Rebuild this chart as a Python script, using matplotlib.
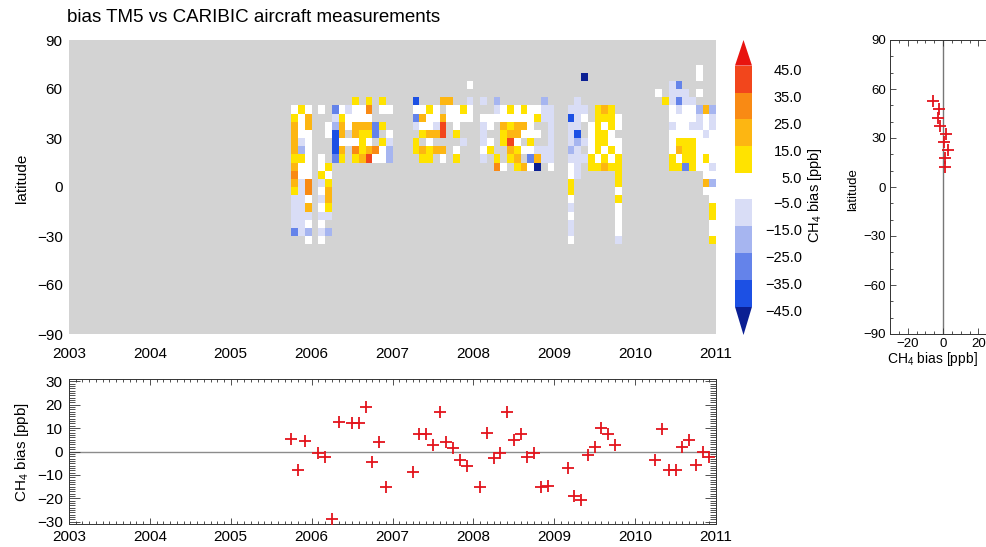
import numpy as np
import matplotlib
matplotlib.use("Agg")
import matplotlib.pyplot as plt
from matplotlib.colors import ListedColormap, BoundaryNorm
from matplotlib.patches import Rectangle, Polygon
from matplotlib.ticker import MultipleLocator

plt.rcParams['font.family'] = ['Liberation Sans', 'DejaVu Sans']
plt.rcParams['mathtext.fontset'] = 'custom'
plt.rcParams['mathtext.rm'] = 'Liberation Sans'

# ---- data -------------------------------------------------------------
# bias classes per month (first column = Oct 2005), latitude bands
# from 70-75N (first char) down to 35-30S (last char); '.' = no data
first_month = 33          # months after Jan 2003
lat_top = 75
lat_bottom = -35
month_codes = [
    ".....wyggggygogyllllB.",  # 2005-10
    ".....ywwwlbywwlllllll.",
    ".....wggwwwwwwoowglwbw",
    "......................",
    ".....w.....wwylwlwlwlw",  # 2006-02
    ".......ww...ywyggyl.b.",
    ".....BlbDDDB..........",
    ".....wyggwgy..........",
    ".....lww.w............",
    "....ywwggwoy..........",
    ".....wwgyyyg..........",
    "....yowgywgr..........",
    ".......BB.ow..........",
    "....yw.y.yww..........",
    ".....w..wlbb..........",
    "......................",
    "......................",  # 2007-02
    "......................",
    "....DwBl.yy...........",
    ".....wgwy.gy..........",
    ".....ywwgwyy..........",
    ".....wwlg.g...........",
    "....g.grr.gw..........",
    "....gww...............",
    ".....wwwy.wy..........",
    ".....yw..l............",
    "..w.lww...............",
    "......................",
    "....l.wlllwl..........",  # 2008-02
    "......ww.wy...........",
    "....blw....yo.........",
    ".....wwgyy..w.........",
    ".....ywygrgy..........",
    ".....wwggwygy.........",
    ".....ywgw.w.g.........",
    ".....wwwwywBw.........",
    ".....wy.w.lgN.........",
    "....bll...ll..........",
    ".....lllllllw.........",
    "......................",
    "......................",  # 2009-02
    ".....lDlllblwwyywlwllw",
    "....llllDbllll........",
    ".N...lw..l.l..........",
    ".......wwwwyy.........",
    ".....yyyyyywy.........",
    ".....gywyywyg.........",
    ".....yyywwywy.........",
    "......ww.wwyyyywywwwwl",
    "......................",
    "......................",
    "......................",
    "......................",  # 2010-02
    "......................",
    "...w..................",
    "....y.................",
    "..lllwwlwwwyy.........",
    "..BlBlwwwygwy.........",
    "...llwwwwyyyB.........",
    "....lwwlwyyyy.........",
    "ww.w.bllwwwww.........",
    ".....gwwlwwywwgw......",
    ".....bllwwwwlwbwwyywwy",  # 2010-12
]
code_value = {'N': -50, 'D': -40, 'B': -30, 'b': -20, 'l': -10, 'w': 0,
              'y': 10, 'g': 20, 'o': 30, 'r': 40, 'R': 50}

# monthly mean bias (bottom panel)
bias_months = [33, 34, 35, 37, 38, 39, 40, 42, 43, 44, 45, 46, 47,
               51, 52, 53, 54, 55, 56, 57, 58, 59,
               61, 62, 63, 64, 65, 66, 67, 68, 69, 70, 71,
               74, 75, 76, 77, 78, 79, 80, 81,
               87, 88, 89, 90, 91, 92, 93, 94, 95]
bias_values = [5.3, -7.8, 4.4, -0.8, -2.4, -28.9, 12.5, 12.1, 12.1, 19.2, -4.5, 4.0, -15.0,
               -8.7, 7.4, 7.6, 2.7, 17.1, 4.1, 1.6, -3.6, -6.1,
               -15.0, 7.9, -2.6, -0.8, 17.0, 5.1, 7.4, -2.4, -0.8, -15.2, -14.8,
               -7.1, -19.0, -20.7, -1.5, 1.8, 10.2, 7.6, 2.7,
               -3.6, 9.5, -8.1, -8.1, 2.0, 5.1, -5.7, -0.1, -2.4]

# zonal mean bias (right panel)
zonal_lats = [52.5, 47.5, 42.5, 37.5, 32.5, 27.5, 22.5, 17.5, 12.5]
zonal_bias = [-5.7, -2.1, -2.9, -1.5, 1.5, 0.6, 3.0, 1.1, 1.3]

levels = [-45, -35, -25, -15, -5, 5, 15, 25, 35, 45]
level_colors = ['#1c50e4', '#6483ea', '#a6b5f0', '#d9ddf6', '#ffffff',
                '#ffe300', '#fdb612', '#f98a14', '#f2461c']
under_color = '#0b1f93'
over_color = '#e8140f'

# ---- grid ---------------------------------------------------------------
nrow = (lat_top - lat_bottom) // 5
grid = np.full((nrow, len(month_codes)), np.nan)
for j, col in enumerate(month_codes):
    col = col.ljust(nrow, '.')
    for i, c in enumerate(col[:nrow]):
        if c != '.':
            grid[nrow - 1 - i, j] = code_value[c]
grid = np.ma.masked_invalid(grid)
x_edges = 2003 + (first_month + np.arange(len(month_codes) + 1)) / 12.0
y_edges = np.arange(lat_bottom, lat_top + 1, 5)

cmap = ListedColormap(level_colors)
cmap.set_under(under_color)
cmap.set_over(over_color)
norm = BoundaryNorm(levels, cmap.N)

W, H = 986, 547
fig = plt.figure(figsize=(W / 100, H / 100), dpi=100)


def box(x0, y0, x1, y1):
    return [x0 / W, 1 - y1 / H, (x1 - x0) / W, (y1 - y0) / H]


def minus(v):
    return str(v).replace('-', '\u2212')


tick_fs = 11
spine_col = '#333333'

# ---- main map -------------------------------------------------------------
ax = fig.add_axes(box(69, 40, 716, 334))
ax.set_facecolor('#d3d3d3')
ax.pcolormesh(x_edges, y_edges, grid, cmap=cmap, norm=norm)
ax.set_xlim(2003, 2011)
ax.set_ylim(-90, 90)
ax.set_xticks(range(2003, 2012))
ax.set_yticks(range(-90, 91, 30))
ax.set_yticklabels([minus(v) for v in range(-90, 91, 30)])
ax.tick_params(length=0, labelsize=tick_fs)
ax.tick_params(axis='x', pad=9)
ax.tick_params(axis='y', pad=4.5)
for s in ax.spines.values():
    s.set_visible(False)
fig.text(22 / W, 1 - 178 / H, 'latitude', rotation=90, ha='center', va='center', fontsize=tick_fs)
fig.text(67 / W, 1 - 18 / H, 'bias TM5 vs CARIBIC aircraft measurements',
         ha='left', va='center', fontsize=13.5)

# ---- colour bar -------------------------------------------------------------
cb = fig.add_axes(box(735, 40, 752, 335))
cb.set_xlim(0, 1)
cb.set_ylim(0, 10.95)
cb.axis('off')
neg_colors = level_colors[:4]
pos_colors = level_colors[5:]
cb.add_patch(Polygon([[0, 1.05], [1, 1.05], [0.5, 0]], closed=True, color=under_color, lw=0))
for i, c in enumerate(neg_colors):
    cb.add_patch(Rectangle((0, 1.05 + i), 1, 1, color=c, lw=0))
for i, c in enumerate(pos_colors):
    cb.add_patch(Rectangle((0, 6.0 + i), 1, 1, color=c, lw=0))
cb.add_patch(Polygon([[0, 10.0], [1, 10.0], [0.5, 10.95]], closed=True, color=over_color, lw=0))
lab_tr = cb.get_yaxis_transform()
lab_x = (802 - 735) / 17
for i, v in enumerate(levels[:5]):
    cb.text(lab_x, 1.05 + i - 0.2, minus(f'{v:.1f}'), transform=lab_tr,
            ha='right', va='center', fontsize=tick_fs - 0.5, clip_on=False)
for i, v in enumerate(levels[5:]):
    cb.text(lab_x, 6.0 + i - 0.2, f'{v:.1f}', transform=lab_tr,
            ha='right', va='center', fontsize=tick_fs - 0.5, clip_on=False)
fig.text(815 / W, 1 - 195 / H, 'CH$_{\\rm 4}$ bias [ppb]', rotation=90,
         ha='center', va='center', fontsize=tick_fs - 0.5)

# ---- time series --------------------------------------------------------------
axb = fig.add_axes(box(69, 379, 716, 524))
bias_time = 2003 + np.array(bias_months) / 12.0
axb.axhline(0, color='#8c8c8c', lw=1.0, zorder=1)
axb.plot(bias_time, bias_values, '+', color='#e3141c', ms=8, mew=1.3, zorder=3)
axb.set_xlim(2003, 2011)
axb.set_ylim(-31, 31)
axb.xaxis.set_major_locator(MultipleLocator(1))
axb.xaxis.set_minor_locator(MultipleLocator(1 / 12))
axb.yaxis.set_minor_locator(MultipleLocator(1))
axb.set_yticks(range(-30, 31, 10))
axb.set_yticklabels([minus(v) for v in range(-30, 31, 10)])
axb.tick_params(which='both', direction='in', top=True, right=True,
                color=spine_col, width=0.6, labelsize=tick_fs)
axb.tick_params(axis='x', which='major', length=4, pad=4)
axb.tick_params(axis='x', which='minor', length=2)
axb.tick_params(axis='y', which='major', length=8, pad=4.5)
axb.tick_params(axis='y', which='minor', length=4.5)
for s in axb.spines.values():
    s.set_color(spine_col)
    s.set_linewidth(0.7)
fig.text(22 / W, 1 - 452 / H, 'CH$_{\\rm 4}$ bias [ppb]', rotation=90,
         ha='center', va='center', fontsize=tick_fs)

# ---- zonal mean ---------------------------------------------------------------
axr = fig.add_axes(box(890, 40, 996, 334))
axr.axvline(0, color='#777777', lw=1.0, zorder=1)
axr.plot(zonal_bias, zonal_lats, '+', color='#e3141c', ms=8, mew=1.3, zorder=3)
axr.set_xlim(-30, 30)
axr.set_ylim(-90, 90)
axr.set_xticks([-20, 0, 20])
axr.set_xticklabels([minus(v) for v in [-20, 0, 20]])
axr.xaxis.set_minor_locator(MultipleLocator(5))
axr.set_yticks(range(-90, 91, 30))
axr.set_yticklabels([minus(v) for v in range(-90, 91, 30)])
axr.yaxis.set_minor_locator(MultipleLocator(10))
axr.tick_params(which='both', direction='in', top=True, right=True,
                color=spine_col, width=0.6, labelsize=tick_fs - 1.5)
axr.tick_params(which='major', length=4)
axr.tick_params(which='minor', length=2)
axr.tick_params(axis='x', pad=3)
axr.tick_params(axis='y', pad=3)
for s in axr.spines.values():
    s.set_color(spine_col)
    s.set_linewidth(0.7)
fig.text(853 / W, 1 - 190 / H, 'latitude', rotation=90, ha='center', va='center', fontsize=tick_fs - 1.5)
fig.text(932 / W, 1 - 359 / H, 'CH$_{\\rm 4}$ bias [ppb]', ha='center', va='center', fontsize=tick_fs - 1)

fig.savefig('out.png', dpi=100)
